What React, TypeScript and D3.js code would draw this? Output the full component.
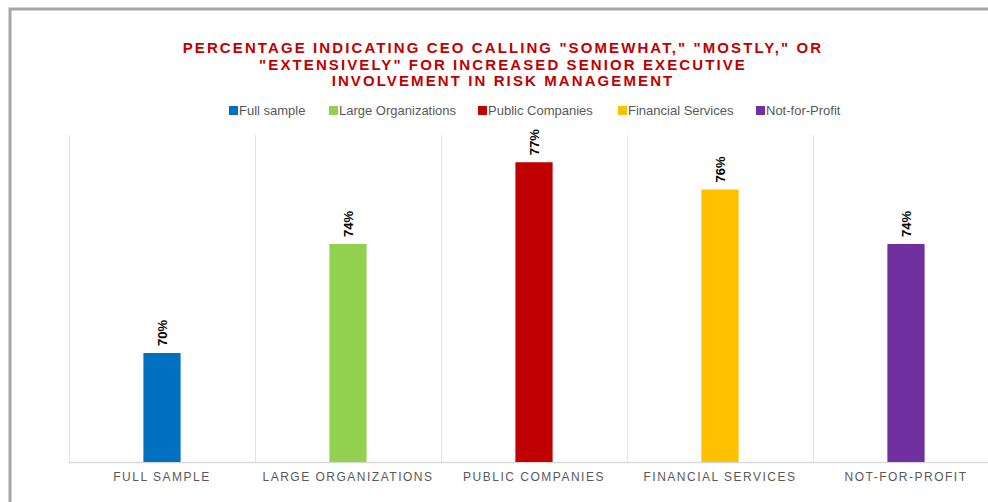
import React from "react";
import * as d3 from "d3";

const categories = ["FULL SAMPLE", "LARGE ORGANIZATIONS", "PUBLIC COMPANIES", "FINANCIAL SERVICES", "NOT-FOR-PROFIT"];
const seriesNames = ["Full sample", "Large Organizations", "Public Companies", "Financial Services", "Not-for-Profit"];
const values = [70, 74, 77, 76, 74];
const colors = ["#0070C0", "#92D050", "#C00000", "#FFC000", "#7030A0"];
const titleLines = [
  'PERCENTAGE INDICATING CEO CALLING "SOMEWHAT," "MOSTLY," OR',
  '"EXTENSIVELY" FOR INCREASED SENIOR EXECUTIVE',
  "INVOLVEMENT IN RISK MANAGEMENT",
];
const legendX = [229, 329, 478, 618, 756];

export default function App() {
  const W = 988, H = 502;
  const plotLeft = 69, plotRight = 999, plotTop = 135, plotBottom = 462;
  const x = d3.scaleBand().domain(categories).range([plotLeft, plotRight]).paddingInner(0).paddingOuter(0);
  const y = d3.scaleLinear().domain([66, 78]).range([plotBottom, plotTop]);
  const barW = x.bandwidth() * 0.2;
  const font = "'Liberation Sans', Arial, sans-serif";
  return (
    <svg width={W} height={H} style={{ position: "absolute", left: 0, top: 0 }} fontFamily={font}>
      <rect x={0} y={0} width={W} height={H} fill="#fff" />
      <rect x={10} y={9} width={1100} height={600} fill="none" stroke="#A6A6A6" strokeWidth={3} />
      {titleLines.map((t, i) => (
        <text key={i} x={503} y={53 + i * 16.5} textAnchor="middle" fontSize={15} fontWeight="bold" fill="#C00000" letterSpacing={2.1}>
          {t}
        </text>
      ))}
      {seriesNames.map((s, i) => (
        <g key={s}>
          <rect x={legendX[i]} y={106} width={9} height={9} fill={colors[i]} />
          <text x={legendX[i] + 10} y={115} fontSize={13} fill="#595959">{s}</text>
        </g>
      ))}
      {x.domain().map((c) => (
        <line key={c} x1={x(c)! + 0.5} x2={x(c)! + 0.5} y1={plotTop} y2={plotBottom} stroke="#E3E3E3" />
      ))}
      <line x1={plotLeft} x2={plotRight} y1={plotBottom + 0.5} y2={plotBottom + 0.5} stroke="#D9D9D9" strokeWidth={1.5} />
      {categories.map((c, i) => {
        const cx = x(c)! + x.bandwidth() / 2;
        return (
          <g key={c}>
            <rect x={cx - barW / 2} y={y(values[i])} width={barW} height={plotBottom - y(values[i])} fill={colors[i]} />
            <text transform={`translate(${cx + 5},${y(values[i]) - 7}) rotate(-90)`} fontSize={13} fontWeight="bold" fill="#000">
              {values[i]}%
            </text>
            <text x={cx} y={481} textAnchor="middle" fontSize={12} fill="#595959" letterSpacing={1.5}>{c}</text>
          </g>
        );
      })}
    </svg>
  );
}
